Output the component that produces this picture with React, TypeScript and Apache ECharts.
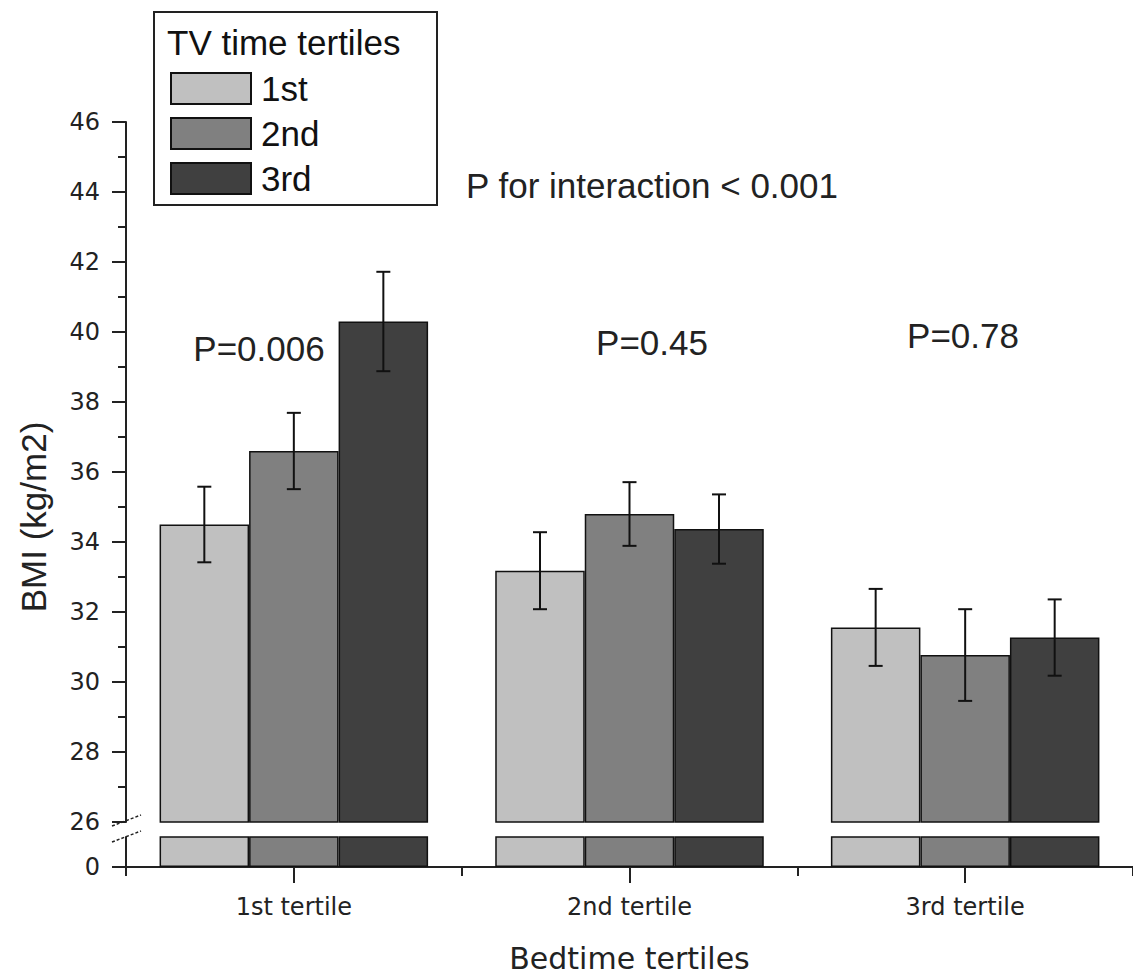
import React, { useEffect, useRef } from "react";
import * as echarts from "echarts";

const categories = ["1st tertile", "2nd tertile", "3rd tertile"];
const tvTertiles = ["1st", "2nd", "3rd"];
const means1st = [34.5, 33.18, 31.56];
const means2nd = [36.6, 34.8, 30.77];
const means3rd = [40.3, 34.37, 31.27];
const errors1st = [1.08, 1.1, 1.1];
const errors2nd = [1.09, 0.91, 1.31];
const errors3rd = [1.42, 0.99, 1.09];
const upperTicks = [26, 46, 2];
const pValues = ["P=0.006", "P=0.45", "P=0.78"];
const interactionText = "P for interaction < 0.001";
const colors = ["#c0c0c0", "#808080", "#404040"];

const allMeans = [means1st, means2nd, means3rd];
const allErrors = [errors1st, errors2nd, errors3rd];

export default function App() {
  const ref = useRef<HTMLDivElement>(null);
  useEffect(() => {
    if (!ref.current) return;
    const chart = echarts.init(ref.current, null, { renderer: "svg" });
    const errData: number[][] = [];
    allMeans.forEach((m, s) => {
      m.forEach((v, c) => {
        errData.push([c, s, v - allErrors[s][c], v + allErrors[s][c]]);
      });
    });
    const tickFont = { fontFamily: "DejaVu Sans", fontSize: 24, color: "#222" };
    const bigFont = "Liberation Sans";
    const series: any[] = [];
    tvTertiles.forEach((name, s) => {
      series.push({
        type: "bar",
        name,
        xAxisIndex: 0,
        yAxisIndex: 0,
        data: allMeans[s],
        barGap: "0%",
        barCategoryGap: "20%",
        itemStyle: { color: colors[s], borderColor: "#111", borderWidth: 1.5 },
        z: 2,
      });
    });
    tvTertiles.forEach((name, s) => {
      series.push({
        type: "bar",
        name,
        xAxisIndex: 1,
        yAxisIndex: 1,
        data: allMeans[s],
        barGap: "0%",
        barCategoryGap: "20%",
        clip: true,
        itemStyle: { color: colors[s], borderColor: "#111", borderWidth: 1.5 },
        z: 2,
      });
    });
    series.push({
      type: "custom",
      name: "err",
      xAxisIndex: 0,
      yAxisIndex: 0,
      data: errData,
      encode: { x: 0, y: [2, 3] },
      z: 5,
      renderItem: (params: any, api: any) => {
        const c = api.value(0);
        const s = api.value(1);
        const lo = api.value(2);
        const hi = api.value(3);
        const pHi = api.coord([c, hi]);
        const pLo = api.coord([c, lo]);
        const band = api.size([1, 0])[0];
        const bw = (band * 0.8) / 3;
        const x = pHi[0] + (s - 1) * bw;
        const st = { stroke: "#111", lineWidth: 2 };
        return {
          type: "group",
          children: [
            { type: "line", shape: { x1: x, y1: pHi[1], x2: x, y2: pLo[1] }, style: st },
            { type: "line", shape: { x1: x - 7, y1: pHi[1], x2: x + 7, y2: pHi[1] }, style: st },
            { type: "line", shape: { x1: x - 7, y1: pLo[1], x2: x + 7, y2: pLo[1] }, style: st },
          ],
        };
      },
    });

    chart.setOption({
      animation: false,
      backgroundColor: "#fff",
      grid: [
        { left: 126, right: -1, top: 122, bottom: 156 },
        { left: 126, right: -1, top: 837, bottom: 111 },
      ],
      legend: {
        data: tvTertiles,
        orient: "vertical",
        left: 170,
        top: 71,
        itemWidth: 80,
        itemHeight: 31,
        itemGap: 10,
        padding: 0,
        icon: "rect",
        itemStyle: { borderColor: "#111", borderWidth: 2 },
        textStyle: { fontFamily: bigFont, fontSize: 35, color: "#111", padding: [0, 0, 0, 5] },
        selectedMode: false,
      },
      xAxis: [
        { type: "category", gridIndex: 0, data: categories, show: false },
        {
          type: "category",
          gridIndex: 1,
          data: categories,
          position: "bottom",
          axisLine: { show: true, lineStyle: { color: "#222", width: 2 } },
          axisTick: { show: true, alignWithLabel: true, length: 16, lineStyle: { color: "#222", width: 2 } },
          axisLabel: { ...tickFont, margin: 28 },
          name: "Bedtime tertiles",
          nameLocation: "middle",
          nameGap: 76,
          nameTextStyle: { fontFamily: "DejaVu Sans", fontSize: 30, color: "#222" },
        },
        {
          type: "category",
          gridIndex: 1,
          data: categories,
          position: "bottom",
          axisLine: { show: false },
          axisTick: { show: true, alignWithLabel: false, length: 9, lineStyle: { color: "#222", width: 2 } },
          axisLabel: { show: false },
        },
      ],
      yAxis: [
        {
          type: "value",
          gridIndex: 0,
          min: upperTicks[0],
          max: upperTicks[1],
          interval: upperTicks[2],
          splitLine: { show: false },
          axisLine: { show: true, lineStyle: { color: "#222", width: 2 } },
          axisTick: { show: true, length: 14, lineStyle: { color: "#222", width: 2 } },
          minorTick: { show: true, splitNumber: 2, length: 8, lineStyle: { color: "#222", width: 2 } },
          axisLabel: { ...tickFont, margin: 26 },
        },
        {
          type: "value",
          gridIndex: 1,
          min: 0,
          max: 1,
          splitLine: { show: false },
          axisLine: { show: true, lineStyle: { color: "#222", width: 2 } },
          axisTick: { show: true, length: 14, customValues: [0], lineStyle: { color: "#222", width: 2 } },
          axisLabel: { ...tickFont, margin: 26, customValues: [0], formatter: (v: number) => (v === 0 ? "0" : "") },
        },
      ],
      series,
      graphic: [
        { type: "rect", shape: { x: 154, y: 12, width: 283, height: 193 }, style: { fill: "none", stroke: "#222", lineWidth: 2 }, z: 10 },
        { type: "text", x: 167, y: 42, style: { text: "TV time tertiles", font: `35px "${bigFont}"`, fill: "#111", textVerticalAlign: "middle" }, z: 10 },
        { type: "text", x: 466, y: 185, style: { text: interactionText, font: `35px "${bigFont}"`, fill: "#222", textVerticalAlign: "middle" }, z: 10 },
        { type: "text", x: 259, y: 348, style: { text: pValues[0], font: `35px "${bigFont}"`, fill: "#222", textAlign: "center", textVerticalAlign: "middle" }, z: 10 },
        { type: "text", x: 652, y: 342, style: { text: pValues[1], font: `35px "${bigFont}"`, fill: "#222", textAlign: "center", textVerticalAlign: "middle" }, z: 10 },
        { type: "text", x: 963, y: 335, style: { text: pValues[2], font: `35px "${bigFont}"`, fill: "#222", textAlign: "center", textVerticalAlign: "middle" }, z: 10 },
        { type: "text", x: 33, y: 517, rotation: Math.PI / 2, style: { text: "BMI (kg/m2)", font: `35px "${bigFont}"`, fill: "#222", textAlign: "center", textVerticalAlign: "middle" }, z: 10 },
        { type: "line", shape: { x1: 112, y1: 826, x2: 141, y2: 815 }, style: { stroke: "#222", lineWidth: 1.5, lineDash: [3, 2] }, z: 10 },
        { type: "line", shape: { x1: 112, y1: 842, x2: 141, y2: 831 }, style: { stroke: "#222", lineWidth: 1.5, lineDash: [3, 2] }, z: 10 },
      ],
    });
    return () => chart.dispose();
  }, []);
  return (
    <div
      ref={ref}
      style={{ position: "absolute", left: 0, top: 0, width: 1133, height: 978 }}
    />
  );
}
